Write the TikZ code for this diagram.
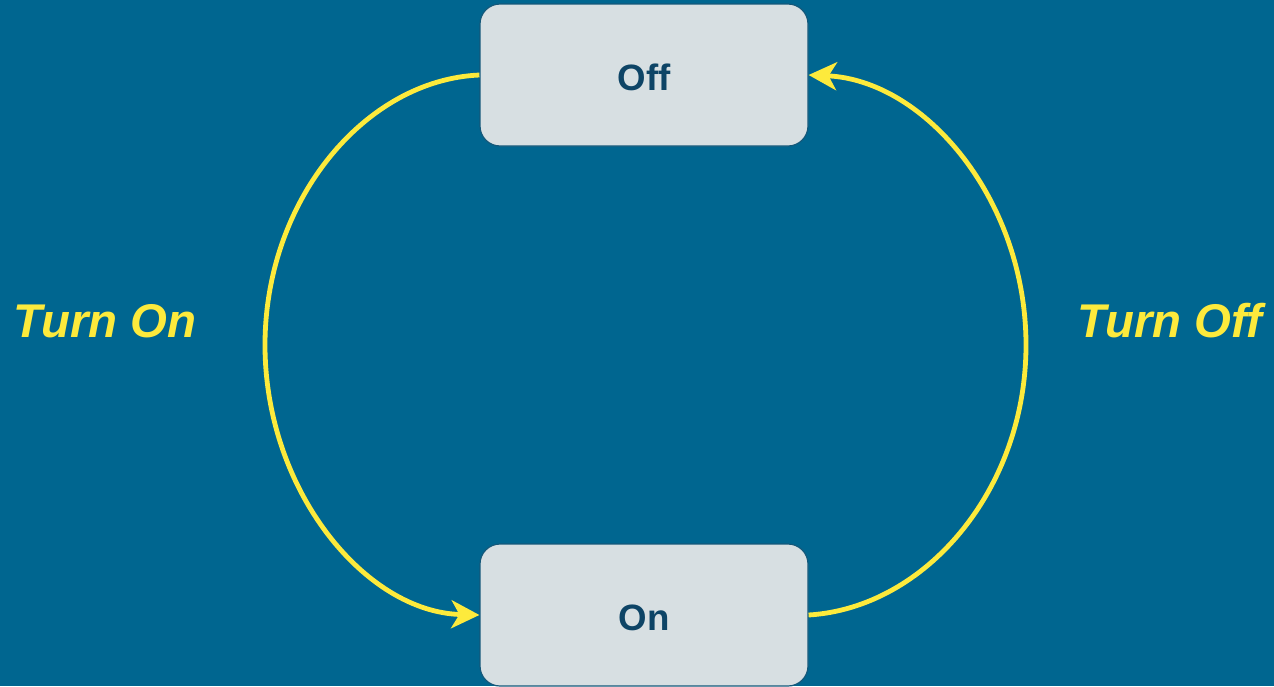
\documentclass[tikz,border=0pt]{standalone}
\usepackage{fontspec}
\setmainfont{Liberation Sans}
\usetikzlibrary{arrows.meta}
\definecolor{bg}{HTML}{006690}
\definecolor{boxfill}{HTML}{D7DFE2}
\definecolor{boxline}{HTML}{14587A}
\definecolor{boxtext}{HTML}{0D4466}
\definecolor{ylw}{HTML}{FDEA3C}
\tikzset{
  statebox/.style={draw=boxline, line width=0.9pt, fill=boxfill, rounded corners=15pt,
    minimum width=246pt, minimum height=106.5pt, inner sep=0pt,
    font=\fontsize{27.5}{32}\selectfont\bfseries, text=boxtext},
  edgelabel/.style={inner sep=0pt, text=ylw, font=\fontsize{35.5}{42}\selectfont\bfseries\itshape},
  trans/.style={draw=ylw, line width=3.6pt,
    -{Stealth[length=21pt, width=21pt, inset=6pt]}}
}
\begin{document}
\begin{tikzpicture}[x=0.75pt, y=-0.75pt]
  \fill[bg] (0,0) rectangle (1274,686);
  \useasboundingbox (0,0) rectangle (1274,686);
  \node[statebox] (off) at (644,75) {};
  \node[statebox] (on) at (644,615) {};
  \node[inner sep=0pt, font=\fontsize{27.5}{32}\selectfont\bfseries, text=boxtext] (offt) at (644,77) {Off};
  \node[inner sep=0pt, font=\fontsize{27.5}{32}\selectfont\bfseries, text=boxtext] (ont) at (644,618) {On};
  \coordinate (lmid) at (265,345);
  \coordinate (rmid) at (1026,345);
  \draw[trans] (off.west) .. controls (365,80) and (265,200) .. (lmid)
      .. controls (265,490) and (365,612) .. (on.west);
  \draw[trans] (on.east) .. controls (925,608) and (1026,490) .. (rmid)
      .. controls (1026,200) and (925,80) .. (off.east);
  \node[edgelabel] (lon) at (105,321) {Turn On};
  \node[edgelabel] (loff) at (1170,321) {Turn Off};
\end{tikzpicture}
\end{document}
